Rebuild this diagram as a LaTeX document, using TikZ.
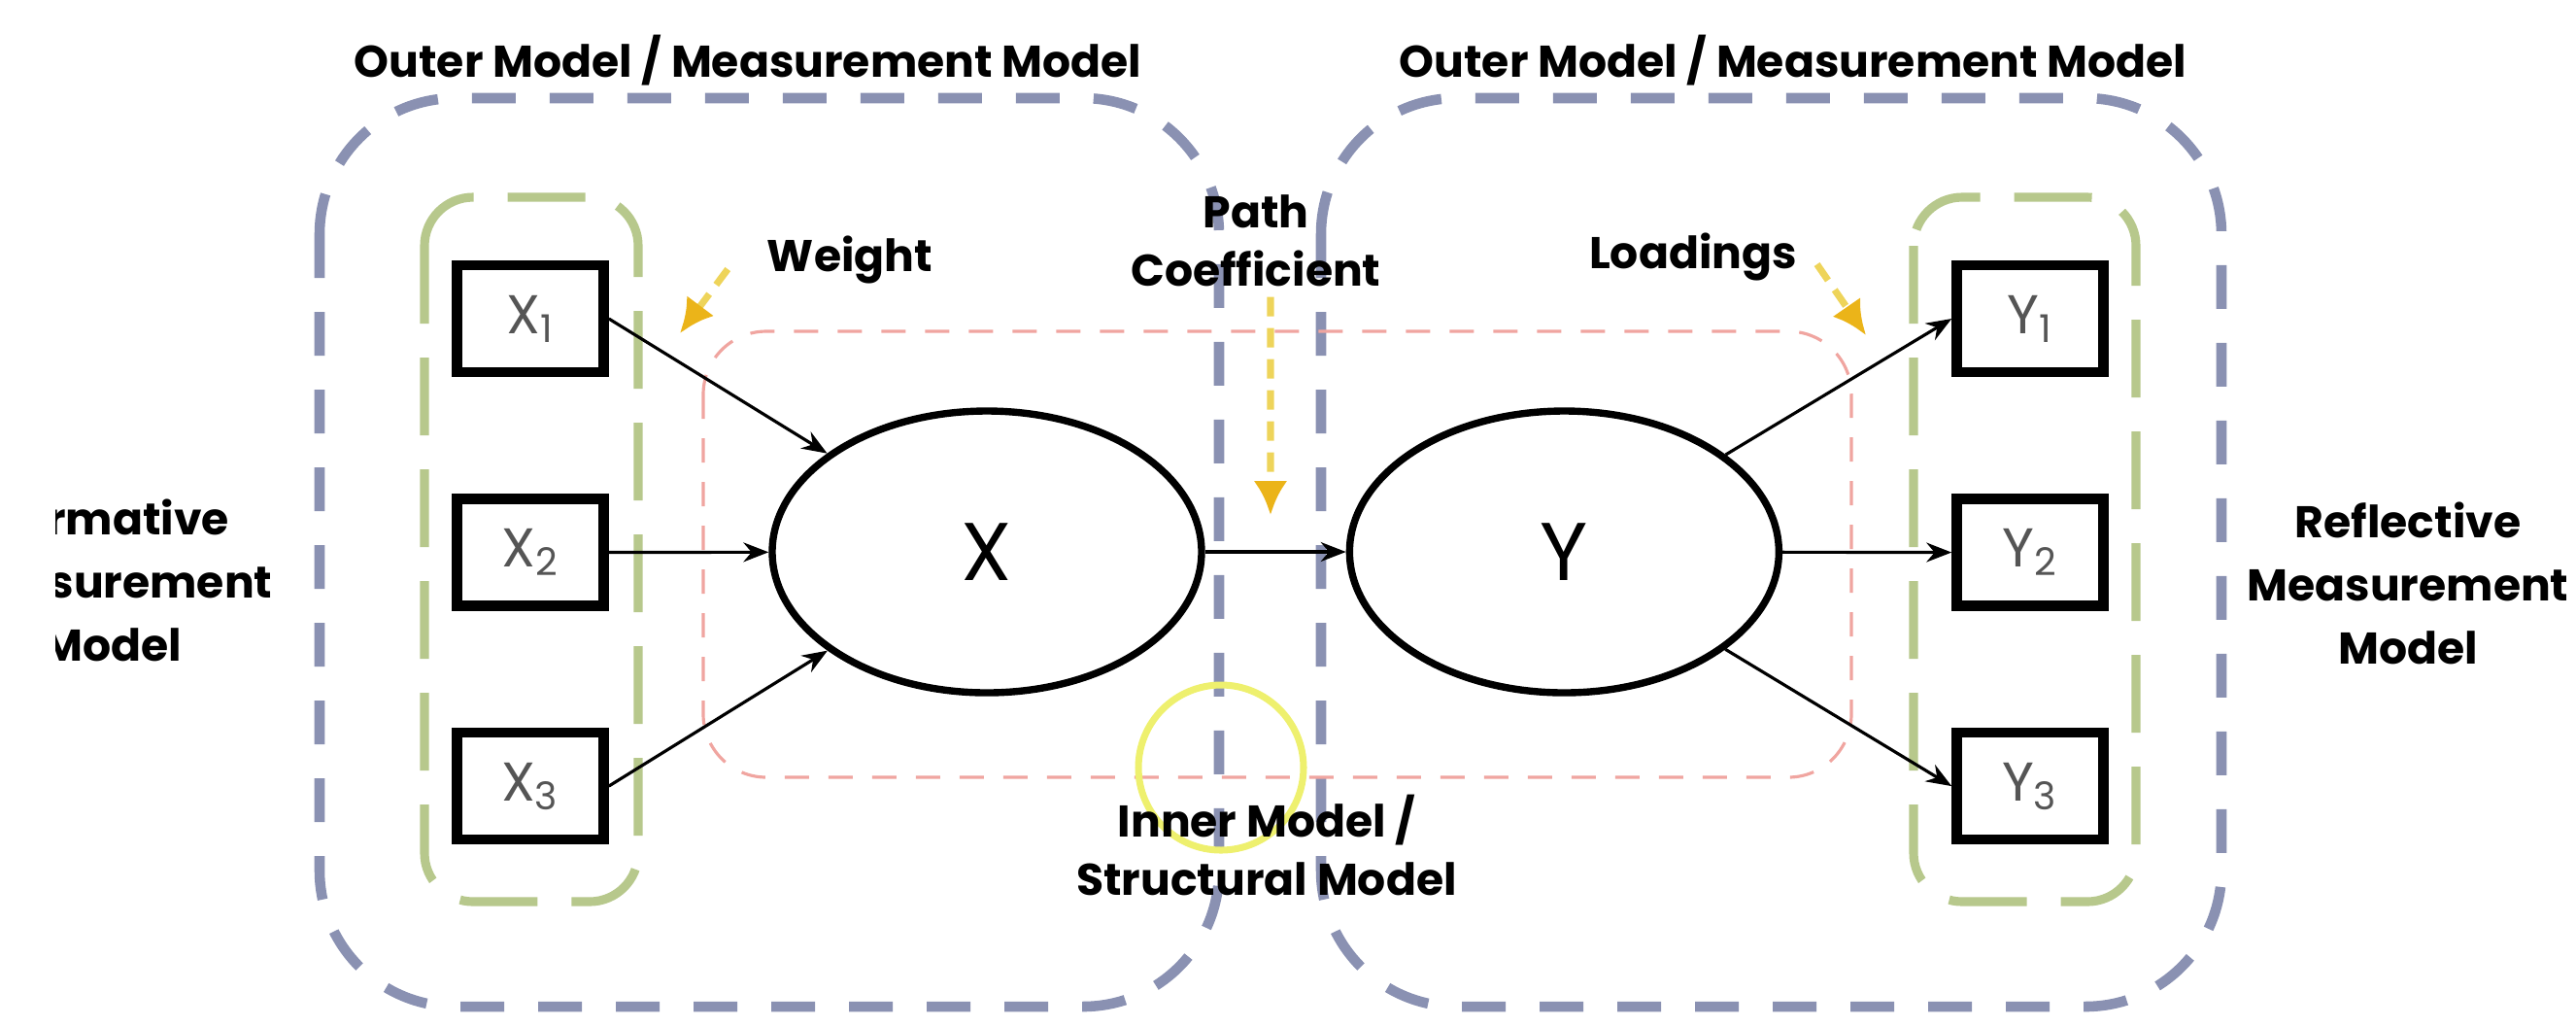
\documentclass[tikz,border=0pt]{standalone}
\usepackage{fontspec}
\setmainfont{Poppins}
\usepackage{xcolor}
\usetikzlibrary{positioning,arrows.meta,shapes.geometric}

\definecolor{outerblue}{RGB}{138,145,178}
\definecolor{groupgreen}{RGB}{183,200,140}
\definecolor{innerred}{RGB}{240,165,160}
\definecolor{hintyellow}{RGB}{238,212,90}
\definecolor{hintgold}{RGB}{235,180,25}
\definecolor{ringyellow}{RGB}{238,240,110}
\definecolor{labelgray}{RGB}{85,85,85}

\begin{document}
\begin{tikzpicture}[
    indicator/.style={draw, line width=3pt, minimum width=1.51cm, minimum height=1.1cm, inner sep=0pt, text=labelgray, font=\fontsize{16}{16}\selectfont},
    latent/.style={draw, ellipse, line width=2.1pt, minimum width=4.42cm, minimum height=2.9cm, inner sep=0pt, font=\fontsize{24}{24}\selectfont},
    caption/.style={font=\bfseries\fontsize{13}{17}\selectfont, align=center, inner sep=1mm},
    outerbox/.style={draw=outerblue, line width=3pt, dash pattern=on 4.5mm off 3.5mm, rounded corners=1.4cm},
    groupbox/.style={draw=groupgreen, line width=2.6pt, dash pattern=on 8mm off 3.5mm, rounded corners=5mm},
    innerbox/.style={draw=innerred, line width=0.9pt, dash pattern=on 2.5mm off 2mm, rounded corners=6.5mm},
    link/.style={draw, line width=0.9pt, -{Stealth[length=2.6mm,width=2mm]}},
    hint/.style={draw=hintyellow, line width=2pt, dash pattern=on 2mm off 1.2mm, -{Latex[length=3.5mm,width=3.5mm,color=hintgold]}}
]
\useasboundingbox (0,0) rectangle (26.52,-10.55);

% dashed groupings
\draw[outerbox] (3.29,-1.01) rectangle (12.55,-10.36);
\draw[outerbox] (13.60,-1.01) rectangle (22.87,-10.36);
\draw[groupbox] (4.37,-2.03) rectangle (6.57,-9.28);
\draw[groupbox] (19.70,-2.03) rectangle (21.99,-9.28);
\draw[innerbox] (7.24,-3.41) rectangle (19.06,-8.00);
\draw[ringyellow, line width=2pt] (12.57,-7.90) circle (0.85);

% indicators
\node[indicator] (X1) at (5.46,-3.28) {X\textsubscript{1}};
\node[indicator, below=1.2cm of X1] (X2) {X\textsubscript{2}};
\node[indicator, below=1.2cm of X2] (X3) {X\textsubscript{3}};
\node[indicator] (Y1) at (20.90,-3.28) {Y\textsubscript{1}};
\node[indicator, below=1.2cm of Y1] (Y2) {Y\textsubscript{2}};
\node[indicator, below=1.2cm of Y2] (Y3) {Y\textsubscript{3}};

% latent variables
\node[latent] (X) at (10.16,-5.68) {X};
\node[latent, right=1.45cm of X] (Y) {Y};

\draw[link] (X1.east) -- (X);
\draw[link] (X2.east) -- (X);
\draw[link] (X3.east) -- (X);
\draw[link] (X) -- (Y);
\draw[link] (Y) -- (Y1.west);
\draw[link] (Y) -- (Y2.west);
\draw[link] (Y) -- (Y3.west);

% captions
\node[caption] (outerL) at (7.70,-0.62) {Outer Model / Measurement Model};
\node[caption] (outerR) at (18.46,-0.62) {Outer Model / Measurement Model};
\node[caption] (weight) at (8.75,-2.67) {Weight};
\node[caption] (pathcoef) at (12.93,-2.48) {Path\\Coefficient};
\node[caption] (loadings) at (17.43,-2.64) {Loadings};
\node[caption] (inner) at (13.04,-8.70) {Inner Model /\\Structural Model};
\node[caption, font=\bfseries\fontsize{13}{18.5}\selectfont] (reflective) at (24.79,-6.00) {Reflective\\Measurement\\Model};
\begin{scope}
  \clip (0.57,0) rectangle (3.2,-10.55);
  \node[caption, font=\bfseries\fontsize{13}{18.5}\selectfont] (formative) at (1.15,-5.97) {Formative\\Measurement\\Model};
\end{scope}

% hint arrows
\coordinate (wtip) at (7.00,-3.43);
\coordinate (ptip) at (13.08,-5.30);
\coordinate (ltip) at (19.21,-3.45);
\draw[hint] ([shift={(-0.3,-0.1)}]weight.west) -- (wtip);
\draw[hint] ([xshift=1.5mm]pathcoef.south) -- (ptip);
\draw[hint] ([shift={(0.1,-0.08)}]loadings.east) -- (ltip);
\end{tikzpicture}
\end{document}
